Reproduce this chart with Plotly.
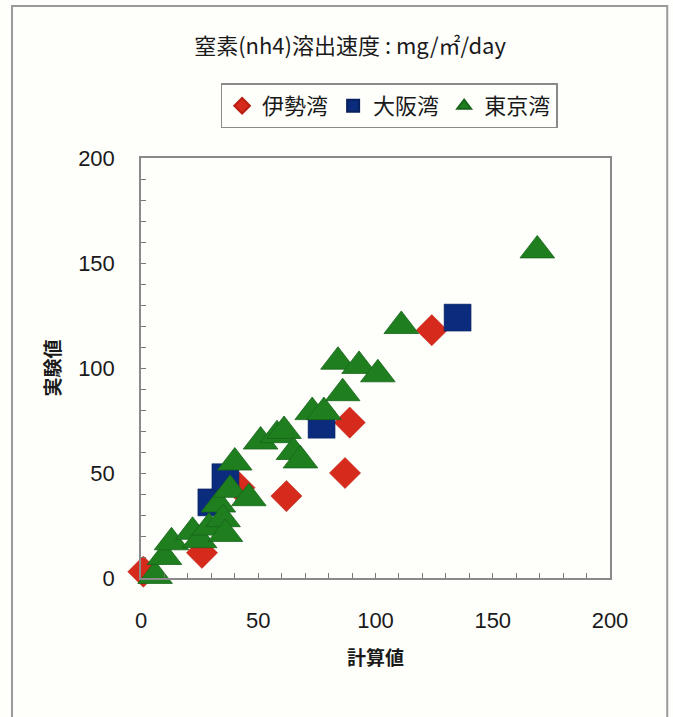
import plotly.graph_objects as go

# 伊勢湾 (Ise Bay): calculated vs. measured NH4 release rate
ise_calc = [1, 26, 42, 62, 87, 89, 124]
ise_meas = [3, 12, 43, 39, 50, 74, 118]

# 大阪湾 (Osaka Bay)
osaka_calc = [30, 36, 77, 135]
osaka_meas = [36, 48, 73, 124]

# 東京湾 (Tokyo Bay)
tokyo_calc = [6, 10, 13, 22, 25, 29, 33, 35, 36, 38, 40, 46, 51, 58, 61, 65, 68,
              73, 78, 86, 84, 93, 101, 111, 169]
tokyo_meas = [1, 10, 17, 22, 18, 24, 35, 28, 21, 42, 55, 38, 65, 68, 70, 60, 56,
              79, 79, 88, 103, 101, 97, 120, 156]

series_names = ["伊勢湾", "大阪湾", "東京湾"]
tick_values = [0, 50, 100, 150, 200]

RED = "#d62a1c"
NAVY = "#0b2c7c"
GREEN = "#1f7f1f"

fig = go.Figure()
fig.add_trace(go.Scatter(
    x=ise_calc, y=ise_meas, mode="markers", name=series_names[0],
    cliponaxis=False,
    marker=dict(symbol="diamond", size=24, color=RED,
                line=dict(color="#b81f12", width=0.5)),
))
fig.add_trace(go.Scatter(
    x=osaka_calc, y=osaka_meas, mode="markers", name=series_names[1],
    cliponaxis=False,
    marker=dict(symbol="square", size=27, color=NAVY,
                line=dict(color="#08205c", width=0.5)),
))
fig.add_trace(go.Scatter(
    x=tokyo_calc, y=tokyo_meas, mode="markers", name=series_names[2],
    cliponaxis=False,
    marker=dict(symbol="triangle-up", size=30, color=GREEN,
                line=dict(color="#16631a", width=0.8)),
))

axis_common = dict(
    range=[0, 200],
    tickvals=tick_values,
    ticks="inside",
    ticklen=5,
    tickcolor="#777777",
    minor=dict(dtick=10, ticks="inside", ticklen=5, tickcolor="#777777"),
    showgrid=False,
    zeroline=False,
    showline=True,
    linecolor="#8a8a8a",
    linewidth=1.5,
    mirror=True,
    tickfont=dict(family="Liberation Sans, Arial, sans-serif", size=22,
                  color="#1a1a1a"),
)

fig.update_xaxes(
    **axis_common,
    ticklabelstandoff=22,
    title=dict(text="<b>計算値</b>", standoff=20,
               font=dict(family="Noto Sans CJK JP", size=19, color="#1a1a1a")),
)
fig.update_yaxes(
    **axis_common,
    ticklabelstandoff=20,
    title=dict(text="<b>実験値</b>", standoff=12,
               font=dict(family="Noto Sans CJK JP", size=19, color="#1a1a1a")),
)

# Outer frame around the whole chart
fig.add_shape(type="rect", xref="paper", yref="paper",
              x0=-0.275, x1=1.122, y0=-0.36, y1=1.362,
              line=dict(color="#9a9a9a", width=2), fillcolor="rgba(0,0,0,0)",
              layer="below")

fig.update_layout(
    width=673,
    height=717,
    margin=dict(l=141, r=63, t=158, b=139),
    paper_bgcolor="#fefefb",
    plot_bgcolor="#fefefb",
    title=dict(
        text="窒素(nh4)溶出速度 : mg/㎡/day",
        x=350 / 673, xanchor="center",
        y=1 - 46 / 717, yanchor="middle",
        font=dict(family="Noto Sans CJK JP", size=22, color="#1a1a1a"),
    ),
    legend=dict(
        orientation="h",
        x=0.529, xanchor="center",
        y=1.124, yanchor="middle",
        bordercolor="#8a8a8a",
        borderwidth=1.5,
        bgcolor="#fefefb",
        font=dict(family="Noto Sans CJK JP", size=22, color="#1a1a1a"),
        itemsizing="constant",
        itemwidth=30,
        tracegroupgap=0,
    ),
    showlegend=True,
)

fig.write_html("out.html")
